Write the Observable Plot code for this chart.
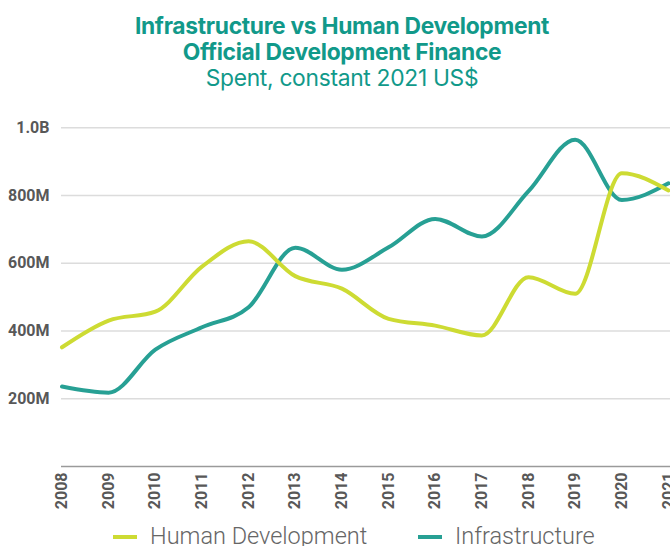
<!DOCTYPE html>
<html>
<head>
<meta charset="utf-8">
<script src="https://cdn.jsdelivr.net/npm/d3@7"></script>
<script src="https://cdn.jsdelivr.net/npm/@observablehq/plot@0.6"></script>
<style>
  html, body { margin: 0; padding: 0; background: #fff; }
  #page { position: relative; width: 670px; height: 546px; overflow: hidden; }
  #title { position: absolute; left: 7px; top: 0; width: 670px; text-align: center; color: #11998a; font-family: Inter, "Open Sans", sans-serif; }
  #title .l { position: absolute; left: 0; width: 670px; white-space: nowrap; font-size: 22.8px; line-height: 26px; letter-spacing: -0.3px; }
  #title .b { font-weight: 700; }
  #title .r { font-weight: 400; }
  #chart { position: absolute; left: 0; top: 100px; }
  .leg { position: absolute; top: 525px; height: 23px; line-height: 23px; font-family: Roboto, sans-serif; font-weight: 300; font-size: 23.5px; color: #666; white-space: nowrap; }
  .leg .sw { display: inline-block; width: 24px; height: 4px; vertical-align: middle; margin-right: 13px; position: relative; top: -1px; }
</style>
</head>
<body>
<div id="page">
  <div id="title">
    <div class="l b" style="top:13px">Infrastructure vs Human Development</div>
    <div class="l b" style="top:39px">Official Development Finance</div>
    <div class="l r" style="top:65px">Spent, constant 2021 US$</div>
  </div>
  <div id="chart"></div>
  <div id="legend"></div>
</div>
<script>
const years = [2008, 2009, 2010, 2011, 2012, 2013, 2014, 2015, 2016, 2017, 2018, 2019, 2020, 2021];
// values in millions of constant 2021 US$
const humanDevelopment = [352, 431, 457, 590, 665, 562, 525, 436, 416, 387, 559, 510, 866, 815];
const infrastructure = [236, 218, 345, 411, 470, 646, 581, 647, 731, 679, 813, 965, 787, 836];
const seriesNames = ["Human Development", "Infrastructure"];
const seriesColors = ["#cddb33", "#27a094"];
const yTicks = [200, 400, 600, 800, 1000];
const yTickLabels = ["200M", "400M", "600M", "800M", "1.0B"];

const rows = [];
years.forEach((yr, i) => {
  rows.push({year: yr, value: infrastructure[i], series: seriesNames[1]});
});
years.forEach((yr, i) => {
  rows.push({year: yr, value: humanDevelopment[i], series: seriesNames[0]});
});

const chart = Plot.plot({
  width: 670,
  height: 416,
  marginTop: 27,
  marginLeft: 61,
  marginRight: 0,
  marginBottom: 50,
  style: {fontFamily: "Roboto, sans-serif", fontSize: "16px", background: "#fff"},
  x: {domain: [2008, 2021], range: [61.5, 668], label: null},
  y: {domain: [0, 1000], range: [366, 27.3], label: null},
  color: {domain: seriesNames, range: seriesColors},
  marks: [
    Plot.gridY(yTicks, {stroke: "#dcdcdc", strokeOpacity: 1, strokeWidth: 1.5}),
    Plot.ruleY([0], {stroke: "#9a9a9a", strokeWidth: 1.5}),
    Plot.axisY(yTicks, {tickSize: 0, tickPadding: 12, tickFormat: (d) => yTickLabels[yTicks.indexOf(d)], color: "#585858", fontWeight: 700, label: null}),
    Plot.axisX(years, {tickSize: 0, tickPadding: 6, tickRotate: -90, tickFormat: (d) => String(d), color: "#585858", fontWeight: 700, label: null}),
    Plot.line(rows, {x: "year", y: "value", z: "series", stroke: "series", strokeWidth: 4, curve: "monotone-x"})
  ]
});
document.getElementById("chart").appendChild(chart);

const legend = document.getElementById("legend");
const legLeft = [113, 418];
seriesNames.forEach((name, i) => {
  const item = document.createElement("div");
  item.className = "leg";
  item.style.left = legLeft[i] + "px";
  const sw = document.createElement("span");
  sw.className = "sw";
  sw.style.background = seriesColors[i];
  item.appendChild(sw);
  item.appendChild(document.createTextNode(name));
  legend.appendChild(item);
});
</script>
</body>
</html>
